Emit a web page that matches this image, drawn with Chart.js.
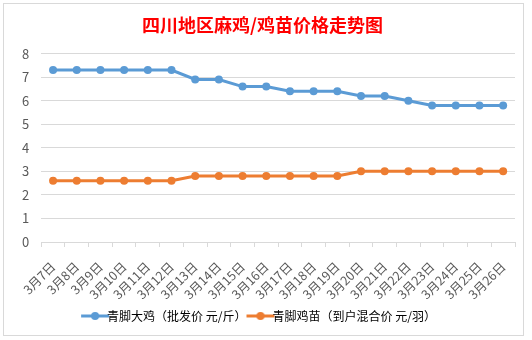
<!DOCTYPE html>
<html><head><meta charset="utf-8">
<script src="https://cdn.jsdelivr.net/npm/chart.js@4"></script>
<style>
html,body{margin:0;padding:0;background:#fff;}
#wrap{position:absolute;left:0;top:0;width:532px;height:340px;}
#frame{position:absolute;left:3px;top:3px;width:521px;height:333px;border:1px solid #d9d9d9;box-sizing:border-box;}
canvas{position:absolute;left:0;top:0;}
</style></head>
<body>
<div id="wrap"><div id="frame"></div><canvas id="c" width="532" height="340"></canvas></div>
<script>
const categories = ["3月7日","3月8日","3月9日","3月10日","3月11日","3月12日","3月13日","3月14日","3月15日","3月16日","3月17日","3月18日","3月19日","3月20日","3月21日","3月22日","3月23日","3月24日","3月25日","3月26日"];
const bigChicken = [7.3,7.3,7.3,7.3,7.3,7.3,6.9,6.9,6.6,6.6,6.4,6.4,6.4,6.2,6.2,6.0,5.8,5.8,5.8,5.8];
const chick = [2.6,2.6,2.6,2.6,2.6,2.6,2.8,2.8,2.8,2.8,2.8,2.8,2.8,3.0,3.0,3.0,3.0,3.0,3.0,3.0];
const seriesNames = ["青脚大鸡（批发价 元/斤）","青脚鸡苗（到户混合价 元/羽）"];
const yTicks = [0,1,2,3,4,5,6,7,8];

const FONT = '"Noto Sans CJK SC", "Microsoft YaHei", sans-serif';
function legendIcon(color){
  const cv = document.createElement('canvas');
  cv.width = 30; cv.height = 10;
  const g = cv.getContext('2d');
  g.strokeStyle = color; g.lineWidth = 3;
  g.beginPath(); g.moveTo(1,5); g.lineTo(29,5); g.stroke();
  g.fillStyle = color; g.beginPath(); g.arc(15,5,4,0,Math.PI*2); g.fill();
  return cv;
}
const colors = ["#5B9BD5","#ED7D31"];
new Chart(document.getElementById('c'), {
  type: 'line',
  data: {
    labels: categories,
    datasets: [
      {label: seriesNames[0], data: bigChicken, borderColor: colors[0], backgroundColor: colors[0], borderWidth: 3, pointRadius: 4, pointBackgroundColor: colors[0], pointBorderWidth: 0, tension: 0},
      {label: seriesNames[1], data: chick, borderColor: colors[1], backgroundColor: colors[1], borderWidth: 3, pointRadius: 4, pointBackgroundColor: colors[1], pointBorderWidth: 0, tension: 0}
    ]
  },
  options: {
    responsive: false,
    animation: false,
    devicePixelRatio: 1,
    layout: {padding: {left: 10, right: 17, top: 0, bottom: 8}},
    plugins: {
      title: {display: true, text: '四川地区麻鸡/鸡苗价格走势图', color: '#FF0000', font: {family: FONT, size: 18, weight: 'bold'}, padding: {top: 14, bottom: 18}},
      legend: {
        position: 'bottom',
        labels: {
          color: '#595959', font: {family: FONT, size: 12}, usePointStyle: true, boxWidth: 30, boxHeight: 10, padding: 8,
          generateLabels: (chart) => chart.data.datasets.map((ds, i) => ({text: ds.label, fillStyle: colors[i], strokeStyle: colors[i], pointStyle: legendIcon(colors[i]), datasetIndex: i, lineWidth: 0}))
        }
      },
      tooltip: {enabled: false}
    },
    scales: {
      x: {
        offset: true,
        grid: {display: true, drawOnChartArea: false, drawTicks: true, tickLength: 5, color: '#D9D9D9', offset: true},
        border: {color: '#D9D9D9'},
        ticks: {color: '#595959', font: {family: FONT, size: 12.5}, minRotation: 45, maxRotation: 45, autoSkip: false, padding: 12},
        afterFit: (s) => { s.height = 60; }
      },
      y: {
        min: 0, max: 8,
        afterBuildTicks: (s) => { s.ticks = yTicks.map(v => ({value: v})); },
        grid: {color: '#D9D9D9', drawTicks: false},
        border: {display: false},
        ticks: {color: '#595959', font: {family: FONT, size: 13}, padding: 12}
      }
    }
  }
});
</script>
</body></html>
